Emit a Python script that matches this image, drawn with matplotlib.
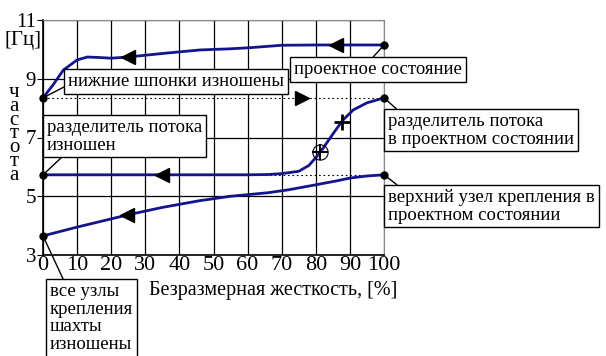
import matplotlib
matplotlib.use('Agg')
import matplotlib.pyplot as plt

plt.rcParams['font.family'] = 'serif'
plt.rcParams['font.serif'] = ['Liberation Serif', 'Times New Roman', 'DejaVu Serif']

# верхняя кривая - нижние шпонки
x_top = [0, 3, 6, 10, 13, 17, 20, 25, 35, 46, 55, 61, 70, 80, 90, 100]
y_top = [8.35, 8.8, 9.3, 9.64, 9.74, 9.72, 9.70, 9.74, 9.86, 9.98, 10.02, 10.06, 10.14, 10.15, 10.15, 10.15]

# средняя кривая - разделитель потока
x_mid = [0, 20, 40, 60, 66, 70, 75, 78, 81, 83, 85, 88, 91, 95, 100]
y_mid = [5.73, 5.73, 5.73, 5.73, 5.74, 5.77, 5.85, 6.05, 6.45, 6.78, 7.12, 7.6, 7.94, 8.18, 8.35]

# нижняя кривая - узлы крепления
x_low = [0, 10, 25, 35, 46, 55, 66, 72, 80, 86, 90, 95, 100]
y_low = [3.65, 3.95, 4.37, 4.62, 4.85, 5.0, 5.12, 5.22, 5.39, 5.52, 5.62, 5.69, 5.73]

ends_x = [0, 0, 0, 100, 100, 100]
ends_y = [8.35, 5.73, 3.65, 10.15, 8.35, 5.73]

arrows_left_x = [25, 86, 35, 24.6]
arrows_left_y = [9.74, 10.15, 5.73, 4.37]

fig = plt.figure(figsize=(6.06, 3.56), dpi=100)
ax = fig.add_axes([43 / 606, 1 - 255 / 356, (384 - 43) / 606, (255 - 20) / 356])

navy = '#14148c'
ax.plot([0, 100], [8.35, 8.35], color='black', lw=0.8, ls=(0, (1.5, 2.5)), zorder=1)
ax.plot([0, 100], [5.73, 5.73], color='black', lw=0.8, ls=(0, (1.5, 2.5)), zorder=1)

ax.plot(x_top, y_top, color=navy, lw=2, zorder=3)
ax.plot(x_mid, y_mid, color=navy, lw=2, zorder=3)
ax.plot(x_low, y_low, color=navy, lw=2, zorder=3)

ax.plot(ends_x, ends_y, 'o', color='black', ms=5, zorder=5, clip_on=False)
ax.plot(arrows_left_x, arrows_left_y, '<', color='black', ms=10, zorder=5)
ax.plot([76], [8.35], '>', color='black', ms=10, zorder=5)
ax.plot([81.2], [6.5], 'o', mfc='none', mec='black', ms=11, mew=0.8, zorder=5)
ax.plot([81.2], [6.5], '+', color='black', ms=11, mew=1.5, zorder=5)
ax.plot([87.7], [7.53], '+', color='black', ms=12, mew=2, zorder=5)

ax.set_xlim(0, 100)
ax.set_ylim(3, 11)
ax.set_xticks(range(0, 101, 10))
ax.set_yticks([3, 5, 7, 9, 11])
ax.grid(True, color='black', lw=0.9)
ax.tick_params(axis='x', labelsize=16, length=0, pad=1)
ax.tick_params(axis='y', labelsize=15, length=4, pad=1)
for s in ['top', 'right']:
    ax.spines[s].set_color('#888888')
for s in ['left', 'bottom']:
    ax.spines[s].set_linewidth(1.2)

ax.set_xlabel('Безразмерная жесткость, [%]', fontsize=14.5, labelpad=4, x=0.676)
fig.text(5 / 606, 1 - 41 / 356, '[Гц]', fontsize=15, ha='left', va='center')
fig.text(14 / 606, 1 - 134 / 356, '\n'.join('частота'), fontsize=15, ha='center',
         va='center', linespacing=0.62)


def box(text, xy, left, top, rel):
    ax.annotate(text, xy=xy, xycoords='data',
                xytext=(left + 4, 356 - top - 3), textcoords='figure pixels',
                ha='left', va='top', fontsize=13.5, linespacing=1.05,
                bbox=dict(boxstyle='square,pad=0.2', fc='white', ec='black', lw=1),
                arrowprops=dict(arrowstyle='-', color='black', lw=1, relpos=rel,
                                shrinkA=0, shrinkB=0),
                annotation_clip=False, zorder=6)


box('нижние шпонки изношены', (0, 8.35), 64, 70, (0, 0.3))
box('проектное состояние', (100, 10.15), 290, 58, (0.45, 1))
box('разделитель потока\nв проектном состоянии', (100, 8.35), 384, 110, (0.07, 1))
box('разделитель потока\nизношен', (0, 5.73), 43, 116, (0.12, 0))
box('верхний узел крепления в\nпроектном состоянии', (100, 5.73), 384, 186, (0.07, 1))
box('все узлы\nкрепления\nшахты\nизношены', (0, 3.65), 46, 280, (0.18, 1))

fig.savefig('out.png', dpi=100)
